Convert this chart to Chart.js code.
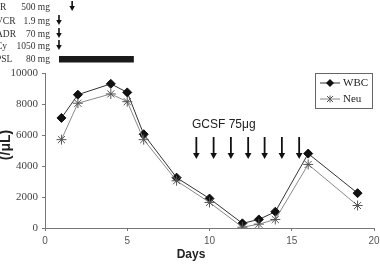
<!DOCTYPE html>
<html>
<head>
<meta charset="utf-8">
<script src="https://cdn.jsdelivr.net/npm/chart.js@4.4.0/dist/chart.umd.min.js"></script>
<style>
  html, body { margin: 0; padding: 0; background: #fff; }
  #wrap { width: 380px; height: 264px; }
</style>
</head>
<body>
<div id="wrap"><canvas id="wbcChart" width="380" height="264"></canvas></div>
<script>
// values
const days = [1, 2, 4, 5, 6, 8, 10, 12, 13, 14, 16, 19];
const wbc  = [7100, 8600, 9300, 8750, 6050, 3250, 1900, 300, 550, 1050, 4800, 2250];
const neu  = [5700, 8050, 8650, 8150, 5700, 3050, 1650, 50, 250, 550, 4100, 1450];
const xTicks = [0, 5, 10, 15, 20];
const yTicks = [0, 1000, 2000, 3000, 4000, 5000, 6000, 7000, 8000, 9000, 10000];

// treatment rows: label, dose, arrow day (or bar start/end)
const drugNames = ["R", "VCR", "ADR", "Cy", "PSL"];
const drugDoses = ["500 mg", "1.9 mg", "70 mg", "1050 mg", "80 mg"];
const drugArrowDays = [1.65, 0.85, 0.85, 0.85, null];
const pslBar = [0.85, 5.4];
const gcsfDays = [9.2, 10.25, 11.3, 12.35, 13.35, 14.4, 15.45];
const gcsfLabel = "GCSF 75μg";

function arrow(ctx, x, y0, y1, head) {
  ctx.beginPath();
  ctx.moveTo(x, y0);
  ctx.lineTo(x, y1 - head);
  ctx.stroke();
  ctx.beginPath();
  ctx.moveTo(x - head * 0.55, y1 - head);
  ctx.lineTo(x + head * 0.55, y1 - head);
  ctx.lineTo(x, y1);
  ctx.closePath();
  ctx.fill();
}

const extras = {
  id: "extras",
  afterDraw(chart) {
    const ctx = chart.ctx;
    const xs = chart.scales.x;
    ctx.save();
    // drug rows
    const rowY = [7, 21, 34, 46, 59];
    ctx.font = "9.5px 'Liberation Serif', serif";
    ctx.fillStyle = "#333";
    ctx.strokeStyle = "#111";
    ctx.textBaseline = "middle";
    drugNames.forEach((n, i) => {
      ctx.textAlign = "left";
      ctx.fillText(n, i === 0 ? 0 : -4, rowY[i]);
      ctx.textAlign = "right";
      ctx.fillText(drugDoses[i], 50, rowY[i]);
      if (drugArrowDays[i] !== null) {
        ctx.fillStyle = "#111";
        ctx.lineWidth = 1.6;
        arrow(ctx, xs.getPixelForValue(drugArrowDays[i]), rowY[i] - 6, rowY[i] + 4, 5);
        ctx.fillStyle = "#333";
      }
    });
    ctx.fillStyle = "#1a1a1a";
    const bx0 = xs.getPixelForValue(pslBar[0]);
    const bx1 = xs.getPixelForValue(pslBar[1]);
    ctx.fillRect(bx0, 56, bx1 - bx0, 6.5);

    // GCSF
    ctx.fillStyle = "#222";
    ctx.font = "12px 'Liberation Sans', Arial, sans-serif";
    ctx.textAlign = "left";
    ctx.textBaseline = "alphabetic";
    ctx.fillText(gcsfLabel, 192, 128);
    ctx.lineWidth = 1.8;
    ctx.strokeStyle = "#111";
    ctx.fillStyle = "#111";
    gcsfDays.forEach(d => arrow(ctx, xs.getPixelForValue(d), 137, 159, 6));

    // legend box
    ctx.strokeStyle = "#666";
    ctx.lineWidth = 1;
    ctx.strokeRect(315.5, 73.5, 57, 35);
    ctx.font = "11px 'Liberation Serif', serif";
    ctx.textBaseline = "middle";
    ctx.fillStyle = "#222";
    ctx.fillText("WBC", 343, 83);
    ctx.fillText("Neu", 343, 99);
    ctx.strokeStyle = "#333";
    ctx.beginPath(); ctx.moveTo(320, 83); ctx.lineTo(340, 83); ctx.stroke();
    ctx.strokeStyle = "#888";
    ctx.beginPath(); ctx.moveTo(320, 99); ctx.lineTo(340, 99); ctx.stroke();
    // diamond
    ctx.fillStyle = "#111";
    ctx.beginPath();
    ctx.moveTo(330, 79); ctx.lineTo(334, 83); ctx.lineTo(330, 87); ctx.lineTo(326, 83);
    ctx.closePath(); ctx.fill();
    // asterisk
    ctx.strokeStyle = "#555";
    ctx.beginPath();
    ctx.moveTo(327, 96); ctx.lineTo(333, 102);
    ctx.moveTo(333, 96); ctx.lineTo(327, 102);
    ctx.moveTo(330, 95.5); ctx.lineTo(330, 102.5);
    ctx.stroke();

    // axis titles
    ctx.fillStyle = "#222";
    ctx.font = "bold 12px 'Liberation Sans', Arial, sans-serif";
    ctx.textAlign = "center";
    ctx.textBaseline = "alphabetic";
    ctx.fillText("Days", 191, 258);
    ctx.save();
    ctx.translate(10, 145);
    ctx.rotate(-Math.PI / 2);
    ctx.font = "bold 14px 'Liberation Sans', Arial, sans-serif";
    ctx.fillText("(/μL)", 0, 0);
    ctx.restore();
    ctx.restore();
  }
};

const toPts = arr => days.map((d, i) => ({ x: d, y: arr[i] }));

new Chart(document.getElementById("wbcChart"), {
  type: "scatter",
  data: {
    datasets: [
      {
        label: "Neu",
        data: toPts(neu),
        showLine: true,
        borderColor: "#8a8a8a",
        borderWidth: 1,
        pointStyle: "star",
        pointRadius: 5,
        pointBorderColor: "#555",
        pointBorderWidth: 1,
        pointBackgroundColor: "#555"
      },
      {
        label: "WBC",
        data: toPts(wbc),
        showLine: true,
        borderColor: "#333",
        borderWidth: 1,
        pointStyle: "rectRot",
        pointRadius: 4.5,
        pointBorderColor: "#111",
        pointBackgroundColor: "#111"
      }
    ]
  },
  options: {
    responsive: false,
    animation: false,
    layout: { padding: { top: 73, right: 4, left: 0, bottom: 0 } },
    plugins: { legend: { display: false }, tooltip: { enabled: false } },
    scales: {
      x: {
        type: "linear",
        min: 0, max: 20,
        afterBuildTicks: s => { s.ticks = xTicks.map(v => ({ value: v })); },
        afterFit: s => { s.height = 36; s.paddingRight = 0; s.paddingLeft = 0; },
        border: { color: "#777", width: 1 },
        grid: { display: true, drawOnChartArea: false, tickLength: 3, color: "#777" },
        ticks: { color: "#555", font: { family: "'Liberation Sans', Arial, sans-serif", size: 10 }, padding: 4, maxRotation: 0,
                 callback: v => String(v) }
      },
      y: {
        min: 0, max: 10000,
        afterBuildTicks: s => { s.ticks = yTicks.map(v => ({ value: v })); },
        afterFit: s => { s.width = 45; },
        border: { color: "#777", width: 1 },
        grid: { display: true, drawOnChartArea: false, tickLength: 3, color: "#777" },
        ticks: { color: "#444", font: { family: "'Liberation Serif', serif", size: 11 }, padding: 4,
                 callback: v => String(v) }
      }
    }
  },
  plugins: [extras]
});
</script>
</body>
</html>
